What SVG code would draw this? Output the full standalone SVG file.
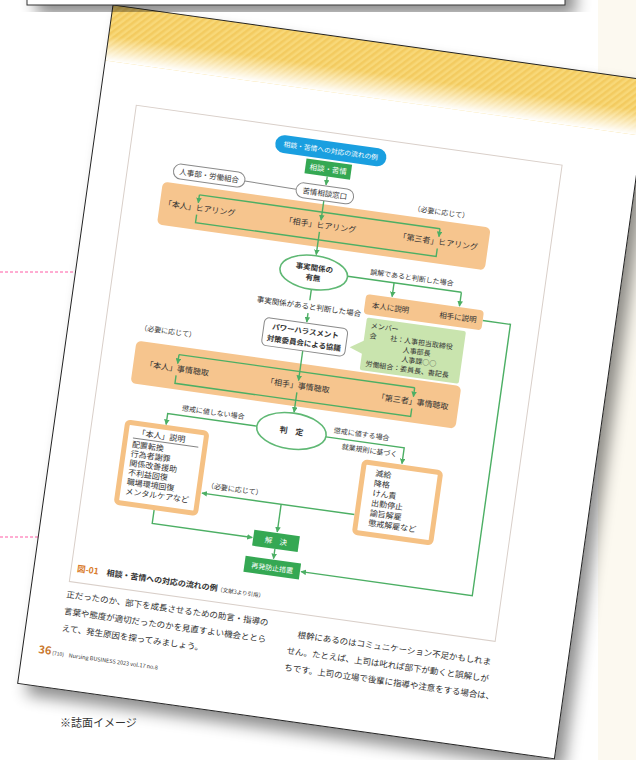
<svg xmlns="http://www.w3.org/2000/svg" width="636" height="760" viewBox="0 0 636 760">
<defs>
<style>
.t{font-family:"Noto Sans CJK JP","Noto Sans",sans-serif;fill:#333}
.m{text-anchor:middle}
.b{font-weight:bold}
.ln{fill:none;stroke:#4caf64;stroke-width:1.4}
.band{fill:#f6c58e}
.gbox{fill:#35a853}
.wt{fill:#fff}
.pill{fill:#fff;stroke:#8a8a8a;stroke-width:1}
.ell{fill:#fff;stroke:#5fb874;stroke-width:1.6}
.lst{fill:#fff;stroke:#f5c184;stroke-width:5}
</style>
<marker id="ah" viewBox="0 0 10 10" refX="9" refY="5" markerWidth="4" markerHeight="4" orient="auto-start-reverse"><path d="M0,0 L10,5 L0,10 z" fill="#4caf64"/></marker>
<pattern id="stripe" width="5" height="5" patternUnits="userSpaceOnUse" patternTransform="rotate(45)"><rect width="5" height="5" fill="#f8d878"/><rect width="2.5" height="5" fill="#f3cb60"/></pattern>
<linearGradient id="fade" x1="0" y1="0" x2="0" y2="1"><stop offset="0" stop-color="#fff" stop-opacity="0"/><stop offset="0.55" stop-color="#fff" stop-opacity="0"/><stop offset="1" stop-color="#fff" stop-opacity="1"/></linearGradient>
<filter id="sh" x="-10%" y="-10%" width="130%" height="130%"><feGaussianBlur in="SourceAlpha" stdDeviation="8"/><feOffset dx="10" dy="10"/><feComponentTransfer><feFuncA type="linear" slope="0.45"/></feComponentTransfer><feMerge><feMergeNode/><feMergeNode in="SourceGraphic"/></feMerge></filter>
</defs>
<rect width="636" height="760" fill="#fff"/>
<rect x="598" y="0" width="38" height="760" fill="#fcf9f0"/>
<path d="M0,272 H80 M0,537 H45" stroke="#ff5aa5" stroke-width="1" stroke-dasharray="3,2" fill="none"/>
<g id="page" transform="translate(113,5) rotate(8)">
<rect width="542" height="685" fill="#fff" filter="url(#sh)"/>
<rect width="542" height="56" fill="url(#stripe)"/>
<rect width="542" height="56" fill="url(#fade)"/>
<rect width="542" height="685" fill="none" stroke="#222" stroke-width="1"/>
<rect id="frame" x="37" y="96" width="430" height="481" fill="none" stroke="#d9cfc9" stroke-width="1"/>
<g id="bands">
<rect class="band" x="74" y="168" width="331" height="43" rx="5"/>
<rect class="band" x="70" y="329" width="328" height="43" rx="5"/>
</g>
<g id="connectors">
<path class="ln" d="M236,140 V148.5" marker-end="url(#ah)"/>
<path d="M155,156 L207,157" stroke="#8a8a8a" stroke-width="1" fill="none"/>
<path class="ln" d="M236,164.5 V184" marker-end="url(#ah)"/>
<path class="ln" d="M112,176 H355"/>
<path class="ln" d="M112,176 V184" marker-end="url(#ah)"/>
<path class="ln" d="M355,176 V184" marker-end="url(#ah)"/>
<path class="ln" d="M112,196 V204 H355 V196"/>
<path class="ln" d="M236,196 V219" marker-end="url(#ah)"/>
<path class="ln" d="M270,236 H385"/>
<path class="ln" d="M317,236 V250" marker-end="url(#ah)"/>
<path class="ln" d="M385,236 V250" marker-end="url(#ah)"/>
<path class="ln" d="M236,254 V265"/>
<path class="ln" d="M236,278 V287" marker-end="url(#ah)"/>
<path class="ln" d="M236,316 V346" marker-end="url(#ah)"/>
<path class="ln" d="M114,337 H352"/>
<path class="ln" d="M114,337 V346" marker-end="url(#ah)"/>
<path class="ln" d="M352,337 V346" marker-end="url(#ah)"/>
<path class="ln" d="M114,358 V366 H352 V358"/>
<path class="ln" d="M236,358 V378" marker-end="url(#ah)"/>
<path class="ln" d="M201,397 H111 V408" marker-end="url(#ah)"/>
<path class="ln" d="M271,398 H350 V414" marker-end="url(#ah)"/>
<path class="ln" d="M310,471 H156" marker-end="url(#ah)"/>
<path class="ln" d="M236,471 V499" marker-end="url(#ah)"/>
<path class="ln" d="M111,494 V508 H212" marker-end="url(#ah)"/>
<path class="ln" d="M236,516 V526" marker-end="url(#ah)"/>
<path class="ln" d="M410,261 H438 V535 H265" marker-end="url(#ah)"/>
</g>
<g id="title"><rect x="180" y="105" width="112" height="18" rx="9" fill="#1a9fe0"/><text class="t m wt" x="236" y="116.5" font-size="6.8">相談・苦情への対応の流れの例</text></g>
<g id="soudan"><rect class="gbox" x="213" y="125" width="46" height="15"/><text class="t m wt" x="236" y="135.5" font-size="7.5">相談・苦情</text></g>
<g id="jinji"><rect class="pill" x="83" y="148" width="72" height="15" rx="7.5"/><text class="t m" x="119" y="158.5" font-size="7.5">人事部・労働組合</text></g>
<g id="madoguchi"><rect class="pill" x="207" y="149.5" width="58" height="15" rx="7.5"/><text class="t m" x="236" y="160" font-size="7.5">苦情相談窓口</text></g>
<g id="hearing">
<text class="t m" x="354" y="162" font-size="7">（必要に応じて）</text>
<text class="t m" x="114" y="192" font-size="8">「本人」ヒアリング</text>
<text class="t m" x="236" y="192" font-size="8">「相手」ヒアリング</text>
<text class="t m" x="355" y="192" font-size="8">「第三者」ヒアリング</text>
</g>
<g id="umu"><ellipse class="ell" cx="236" cy="237" rx="34" ry="17"/><text class="t m b" x="236" y="235" font-size="7.5">事実関係の</text><text class="t m b" x="236" y="245" font-size="7.5">有無</text></g>
<text class="t" x="292" y="231" font-size="7">誤解であると判断した場合</text>
<g id="setsumei"><rect class="band" x="291" y="251" width="119" height="20" rx="4"/><text class="t m" x="317" y="264" font-size="7.5">本人に説明</text><text class="t m" x="385" y="264" font-size="7.5">相手に説明</text></g>
<text class="t m" x="236" y="274" font-size="7.5">事実関係があると判断した場合</text>
<g id="iinkai"><rect class="pill" x="194" y="288" width="84" height="28" rx="5"/><text class="t m b" x="236" y="299" font-size="7.5">パワーハラスメント</text><text class="t m b" x="236" y="311" font-size="7.5">対策委員会による協議</text></g>
<g id="member"><rect x="295" y="274" width="100" height="53" rx="2" fill="#c9e4ae"/><polygon points="296,297 282,306 296,311" fill="#c9e4ae"/>
<text class="t" x="300" y="284" font-size="7">メンバー</text>
<text class="t" x="300" y="294" font-size="7">会　　社：人事担当取締役</text>
<text class="t" x="335" y="303.5" font-size="7">人事部長</text>
<text class="t" x="335" y="313" font-size="7">人事課○○</text>
<text class="t" x="300" y="322.5" font-size="7">労働組合：委員長、書記長</text></g>
<g id="chousyu">
<text class="t m" x="100" y="318" font-size="7">（必要に応じて）</text>
<text class="t m" x="114" y="354" font-size="8">「本人」事情聴取</text>
<text class="t m" x="236" y="354" font-size="8">「相手」事情聴取</text>
<text class="t m" x="352" y="354" font-size="8">「第三者」事情聴取</text>
</g>
<g id="hantei"><ellipse class="ell" cx="236" cy="397" rx="35" ry="18"/><text class="t m b" x="236" y="400" font-size="8">判　定</text></g>
<text class="t m" x="156" y="392" font-size="7">懲戒に値しない場合</text>
<text class="t m" x="306" y="393" font-size="7">懲戒に値する場合</text>
<text class="t m" x="316" y="408" font-size="7" fill="#555">就業規則に基づく</text>
<g id="honnin-list"><rect class="lst" x="72.5" y="411" width="80" height="81" rx="3"/>
<text class="t" x="84" y="423" font-size="8">「本人」説明</text>
<path d="M80,426 H146" stroke="#555" stroke-width="0.7"/>
<text class="t" x="80" y="435" font-size="8">配置転換</text>
<text class="t" x="80" y="444.5" font-size="8">行為者謝罪</text>
<text class="t" x="80" y="454" font-size="8">関係改善援助</text>
<text class="t" x="80" y="463.5" font-size="8">不利益回復</text>
<text class="t" x="80" y="473" font-size="8">職場環境回復</text>
<text class="t" x="80" y="482.5" font-size="8">メンタルケアなど</text></g>
<g id="choukai-list"><rect class="lst" x="312.5" y="417.5" width="77" height="71" rx="3"/>
<text class="t" x="325" y="430" font-size="8">減給</text>
<text class="t" x="325" y="440" font-size="8">降格</text>
<text class="t" x="325" y="450" font-size="8">けん責</text>
<text class="t" x="325" y="460" font-size="8">出勤停止</text>
<text class="t" x="325" y="470" font-size="8">諭旨解雇</text>
<text class="t" x="325" y="480" font-size="8">懲戒解雇など</text></g>
<text class="t m" x="188" y="465" font-size="7">（必要に応じて）</text>
<g id="kaiketsu"><rect class="gbox" x="213" y="500" width="46" height="16"/><text class="t m wt" x="236" y="511" font-size="7.5">解　決</text></g>
<g id="saihatsu"><rect class="gbox" x="208" y="527" width="56" height="16"/><text class="t m wt" x="236" y="538" font-size="7">再発防止措置</text></g>
<text class="t b" x="43" y="566" font-size="8"><tspan fill="#d97b2a" font-size="8.5">図-01</tspan>　相談・苦情への対応の流れの例<tspan font-size="5.5" font-weight="normal">（文献3より引用）</tspan></text>
<g id="body" class="t" font-size="8.5">
<text class="t" x="36" y="593" font-size="8.5">正だったのか、部下を成長させるための助言・指導の</text>
<text class="t" x="36" y="610" font-size="8.5">言葉や態度が適切だったのかを見直すよい機会ととら</text>
<text class="t" x="36" y="627" font-size="8.5">えて、発生原因を探ってみましょう。</text>
<text class="t" x="262" y="601" font-size="8.5">　根幹にあるのはコミュニケーション不足かもしれま</text>
<text class="t" x="262" y="618" font-size="8.5">せん。たとえば、上司は叱れば部下が動くと誤解しが</text>
<text class="t" x="262" y="635" font-size="8.5">ちです。上司の立場で後輩に指導や注意をする場合は、</text>
</g>
<text class="t" x="16" y="652" font-size="11"><tspan font-weight="bold" fill="#c9772e">36</tspan><tspan font-size="5"> (710)　</tspan><tspan font-size="5.5">Nursing BUSINESS 2023 vol.17 no.8</tspan></text>
</g>
<rect x="27" y="-30" width="538" height="35" fill="#fff" stroke="#333" stroke-width="1" filter="url(#sh)"/>
<text class="t" x="60" y="727" font-size="11">※誌面イメージ</text>
</svg>
